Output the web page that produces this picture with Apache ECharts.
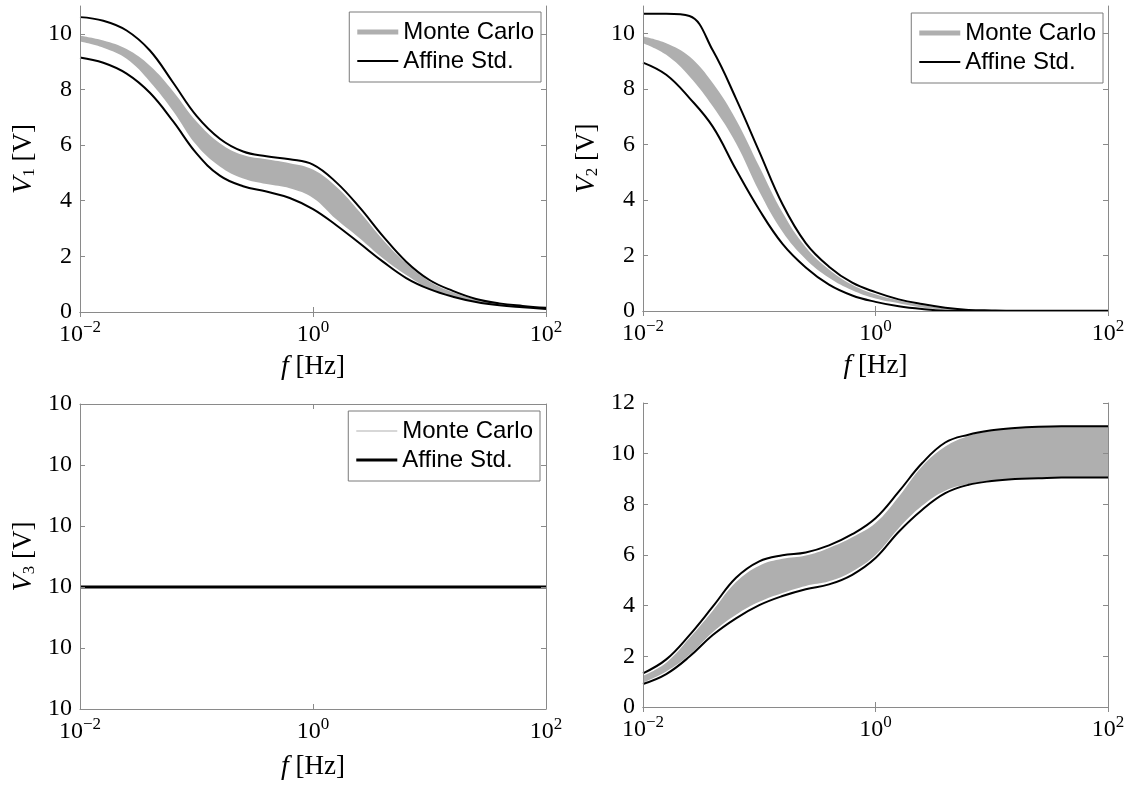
<!DOCTYPE html>
<html><head><meta charset="utf-8">
<script src="https://cdn.jsdelivr.net/npm/echarts@6/dist/echarts.min.js"></script>
<style>html,body{margin:0;padding:0;background:#fff}#c{width:1130px;height:785px}</style>
</head><body><div id="c"></div>
<script>
// ---------------- data ----------------
const freqHz = [0.01, 0.01585, 0.02512, 0.03981, 0.0631, 0.1, 0.1585, 0.2512, 0.3981, 0.631, 1,
                1.585, 2.512, 3.981, 6.31, 10, 15.85, 25.12, 39.81, 63.1, 100];
const xTickValues = [0.01, 1, 100];
const yTicks12 = [0, 2, 4, 6, 8, 10];
const yTicks4 = [0, 2, 4, 6, 8, 10, 12];
const y3TickLabels = ['10', '10', '10', '10', '10', '10'];

// Panel 1 : V1
const v1AffUp = [10.6, 10.47, 10.12, 9.4, 8.24, 7.05, 6.23, 5.77, 5.6, 5.49, 5.3, 4.66, 3.76, 2.73, 1.81, 1.15, 0.76, 0.47, 0.31, 0.22, 0.15];
const v1McMax = [9.93, 9.76, 9.45, 8.85, 7.93, 6.85, 6.07, 5.64, 5.49, 5.35, 5.12, 4.5, 3.6, 2.6, 1.75, 1.1, 0.71, 0.46, 0.31, 0.22, 0.15];
const v1McMin = [9.72, 9.5, 9.1, 8.28, 7.22, 6.0, 5.23, 4.8, 4.6, 4.45, 4.1, 3.33, 2.65, 1.93, 1.33, 0.84, 0.56, 0.37, 0.25, 0.18, 0.12];
const v1AffLo = [9.15, 8.96, 8.57, 7.88, 6.85, 5.7, 4.9, 4.52, 4.33, 4.1, 3.7, 3.12, 2.47, 1.81, 1.22, 0.82, 0.55, 0.36, 0.24, 0.17, 0.11];

// Panel 2 : V2
const v2AffUp = [10.72, 10.72, 10.64, 9.4, 7.66, 5.75, 3.85, 2.45, 1.6, 1.02, 0.68, 0.42, 0.25, 0.12, 0.04, 0.02, 0.01, 0.01, 0.01, 0.01, 0.01];
const v2McMax = [9.9, 9.66, 9.18, 8.22, 6.9, 5.21, 3.55, 2.3, 1.5, 0.95, 0.6, 0.38, 0.22, 0.1, 0.04, 0.02, 0.02, 0.02, 0.01, 0.01, 0.01];
const v2McMin = [9.66, 9.24, 8.46, 7.38, 6.05, 4.31, 2.86, 1.87, 1.2, 0.75, 0.45, 0.28, 0.13, 0.05, 0.01, 0, 0, 0, 0, 0, 0];
const v2AffLo = [8.96, 8.52, 7.68, 6.65, 5.1, 3.65, 2.42, 1.57, 0.95, 0.56, 0.33, 0.17, 0.07, 0.01, 0, 0, 0, 0, 0, 0, 0];

// Panel 3 : V3 (constant)
const v3Mc = [10, 10, 10, 10, 10, 10, 10, 10, 10, 10, 10, 10, 10, 10, 10, 10, 10, 10, 10, 10, 10];
const v3Aff = [10, 10, 10, 10, 10, 10, 10, 10, 10, 10, 10, 10, 10, 10, 10, 10, 10, 10, 10, 10, 10];

// Panel 4
const v4AffUp = [1.33, 1.88, 2.84, 3.96, 5.1, 5.75, 5.99, 6.1, 6.38, 6.82, 7.45, 8.5, 9.62, 10.44, 10.75, 10.92, 11.01, 11.06, 11.08, 11.08, 11.08];
const v4McMax = [1.23, 1.75, 2.72, 3.8, 4.93, 5.58, 5.85, 5.98, 6.28, 6.7, 7.26, 8.3, 9.49, 10.28, 10.7, 10.9, 11.0, 11.05, 11.07, 11.07, 11.07];
const v4McMin = [0.96, 1.4, 2.06, 2.95, 3.64, 4.15, 4.5, 4.78, 4.96, 5.35, 6.0, 7.06, 7.94, 8.54, 8.8, 8.94, 9.0, 9.03, 9.05, 9.05, 9.05];
const v4AffLo = [0.91, 1.3, 1.99, 2.84, 3.5, 4.02, 4.38, 4.65, 4.84, 5.22, 5.88, 6.92, 7.78, 8.44, 8.77, 8.92, 9.0, 9.03, 9.06, 9.06, 9.06];

// ---------------- styling ----------------
const SERIF = 'Liberation Serif';
const SANS = 'Liberation Sans';
const AX = '#8a8a8a';
const MC = '#afafaf';
const SMOOTH = 0.4;

const powRich = {
  b: {fontFamily: SERIF, fontSize: 24, color: '#000', lineHeight: 24, padding: [7, 0, 0, 0]},
  s: {fontFamily: SERIF, fontSize: 17, color: '#000', lineHeight: 16, verticalAlign: 'top'}
};
function fmtPow(v) {
  const e = Math.round(Math.log10(v));
  return '{b|10}{s|' + (e < 0 ? '\u2212' + (-e) : String(e)) + '}';
}
const nameStyle = {
  fontFamily: SERIF, fontSize: 27, color: '#000', lineHeight: 29,
  rich: {
    v: {fontFamily: SERIF, fontStyle: 'italic', fontSize: 28, color: '#000', lineHeight: 29},
    s: {fontFamily: SERIF, fontSize: 17, color: '#000', lineHeight: 17, verticalAlign: 'bottom', padding: [9, 0, 0, 0]},
    n: {fontFamily: SERIF, fontSize: 27, color: '#000', lineHeight: 29}
  }
};
const xNameStyle = {
  fontFamily: SERIF, fontSize: 27, color: '#000', lineHeight: 29,
  rich: {
    i: {fontFamily: SERIF, fontStyle: 'italic', fontSize: 28, color: '#000', lineHeight: 29},
    n: {fontFamily: SERIF, fontSize: 27, color: '#000', lineHeight: 29}
  }
};

const grids = [
  {left: 80, top: 6, width: 466, height: 306},
  {left: 643, top: 6, width: 465, height: 305},
  {left: 80, top: 404, width: 466, height: 305},
  {left: 643, top: 403, width: 465, height: 304}
];

function xAxes(g, withName, nameGap) {
  const tick = {show: true, inside: true, length: 5, customValues: xTickValues, lineStyle: {color: AX, width: 1}};
  const base = {type: 'log', logBase: 10, min: 0.01, max: 100, gridIndex: g, z: 6,
    splitLine: {show: false}, minorTick: {show: false},
    axisLine: {show: true, lineStyle: {color: AX, width: 1}}};
  return [
    Object.assign({}, base, {position: 'bottom', axisTick: tick,
      axisLabel: {show: true, customValues: xTickValues, margin: 7, formatter: fmtPow, rich: powRich},
      name: withName ? '{i|f} {n|[Hz]}' : '', nameLocation: 'middle', nameGap: nameGap, nameTextStyle: xNameStyle}),
    Object.assign({}, base, {position: 'top', axisTick: Object.assign({}, tick), axisLabel: {show: false}})
  ];
}
function yAxes(g, o) {
  const tick = {show: true, inside: true, length: 5, lineStyle: {color: AX, width: 1}};
  if (o.ticks) tick.customValues = o.ticks;
  const base = {type: 'value', gridIndex: g, min: o.min, max: o.max, interval: o.interval, z: 6,
    splitLine: {show: false}, axisLine: {show: true, lineStyle: {color: AX, width: 1}}};
  const lab = {show: true, margin: 8, fontFamily: SERIF, fontSize: 24, color: '#000'};
  if (o.ticks) lab.customValues = o.ticks;
  if (o.fmt) lab.formatter = o.fmt;
  return [
    Object.assign({}, base, {position: 'left', axisTick: tick, axisLabel: lab,
      name: o.name || '', nameLocation: 'middle', nameGap: 42, nameTextStyle: nameStyle}),
    Object.assign({}, base, {position: 'right', axisTick: Object.assign({}, tick), axisLabel: {show: false}})
  ];
}

function pts(arr) { return freqHz.map((f, i) => [f, arr[i]]); }
function panelSeries(g, mcMax, mcMin, affUp, affLo) {
  const common = {type: 'line', symbol: 'none', showSymbol: false, smooth: SMOOTH, silent: true,
    xAxisIndex: 2 * g, yAxisIndex: 2 * g};
  return [
    Object.assign({}, common, {name: 'Monte Carlo', z: 1, data: pts(mcMax),
      lineStyle: {width: 0, opacity: 0}, itemStyle: {color: MC},
      areaStyle: {color: MC, opacity: 1, origin: 'start'}}),
    Object.assign({}, common, {name: 'mc-lower-mask', z: 2, data: pts(mcMin),
      lineStyle: {width: 0, opacity: 0}, itemStyle: {color: '#fff'},
      areaStyle: {color: '#fff', opacity: 1, origin: 'start'}}),
    Object.assign({}, common, {name: 'Affine Std.', z: 3, data: pts(affUp),
      lineStyle: {color: '#000', width: 2}, itemStyle: {color: '#000'}}),
    Object.assign({}, common, {name: 'Affine Std.', z: 3, data: pts(affLo),
      lineStyle: {color: '#000', width: 2}, itemStyle: {color: '#000'}})
  ];
}

const ICON_THIN_BAR = 'path://M0,0L0.01,0M0,1.5H41V3.5H0ZM0,5L0.01,5';
const ICON_HAIR = 'path://M0,0L0.01,0M0,2H41V3H0ZM0,5L0.01,5';
const ICON_THICK3 = 'path://M0,0L0.01,0M0,1H41V4H0ZM0,5L0.01,5';
function legend(right, top, mcIcon, affIcon) {
  return {
    orient: 'vertical', align: 'left', right: right, top: top,
    itemWidth: 41, itemHeight: 5, itemGap: 5,
    padding: [8, 7, 9, 8], borderColor: '#7a7a7a', borderWidth: 1, backgroundColor: '#fff',
    selectedMode: false,
    itemStyle: {borderWidth: 0},
    textStyle: {fontFamily: SANS, fontSize: 24, color: '#000', padding: [0, 0, 0, 0]},
    data: [
      {name: 'Monte Carlo', icon: mcIcon, itemStyle: {color: MC, borderWidth: 0}},
      {name: 'Affine Std.', icon: affIcon, itemStyle: {color: '#000', borderWidth: 0}}
    ]
  };
}

const xAxis = [].concat(
  xAxes(0, true, 40), xAxes(1, true, 40), xAxes(2, true, 43), xAxes(3, false, 40));
const yAxis = [].concat(
  yAxes(0, {min: 0, max: 11, interval: 2, ticks: yTicks12, name: '{v|V}{s|1} {n|[V]}'}),
  yAxes(1, {min: 0, max: 11, interval: 2, ticks: yTicks12, name: '{v|V}{s|2} {n|[V]}'}),
  yAxes(2, {min: 9, max: 11.5, interval: 0.5, fmt: (v, i) => y3TickLabels[i], name: '{v|V}{s|3} {n|[V]}'}),
  yAxes(3, {min: 0, max: 12, interval: 2, ticks: yTicks4}));

const series = [].concat(
  panelSeries(0, v1McMax, v1McMin, v1AffUp, v1AffLo),
  panelSeries(1, v2McMax, v2McMin, v2AffUp, v2AffLo),
  [
    {type: 'line', name: 'Monte Carlo', symbol: 'none', silent: true, xAxisIndex: 4, yAxisIndex: 4, z: 2,
      data: pts(v3Mc), lineStyle: {color: MC, width: 1}, itemStyle: {color: MC}},
    {type: 'line', name: 'Affine Std.', symbol: 'none', silent: true, xAxisIndex: 4, yAxisIndex: 4, z: 3,
      data: pts(v3Aff), lineStyle: {color: '#000', width: 3}, itemStyle: {color: '#000'}}
  ],
  panelSeries(3, v4McMax, v4McMin, v4AffUp, v4AffLo)
);

const chart = echarts.init(document.getElementById('c'), null, {renderer: 'canvas'});
chart.setOption({
  backgroundColor: '#fff',
  animation: false,
  textStyle: {fontFamily: SERIF},
  grid: grids,
  xAxis: xAxis,
  yAxis: yAxis,
  legend: [
    legend(589, 12, 'rect', ICON_THIN_BAR),
    legend(27, 13, 'rect', ICON_THIN_BAR),
    legend(590, 411, ICON_HAIR, ICON_THICK3)
  ],
  series: series
});
</script>
</body></html>
